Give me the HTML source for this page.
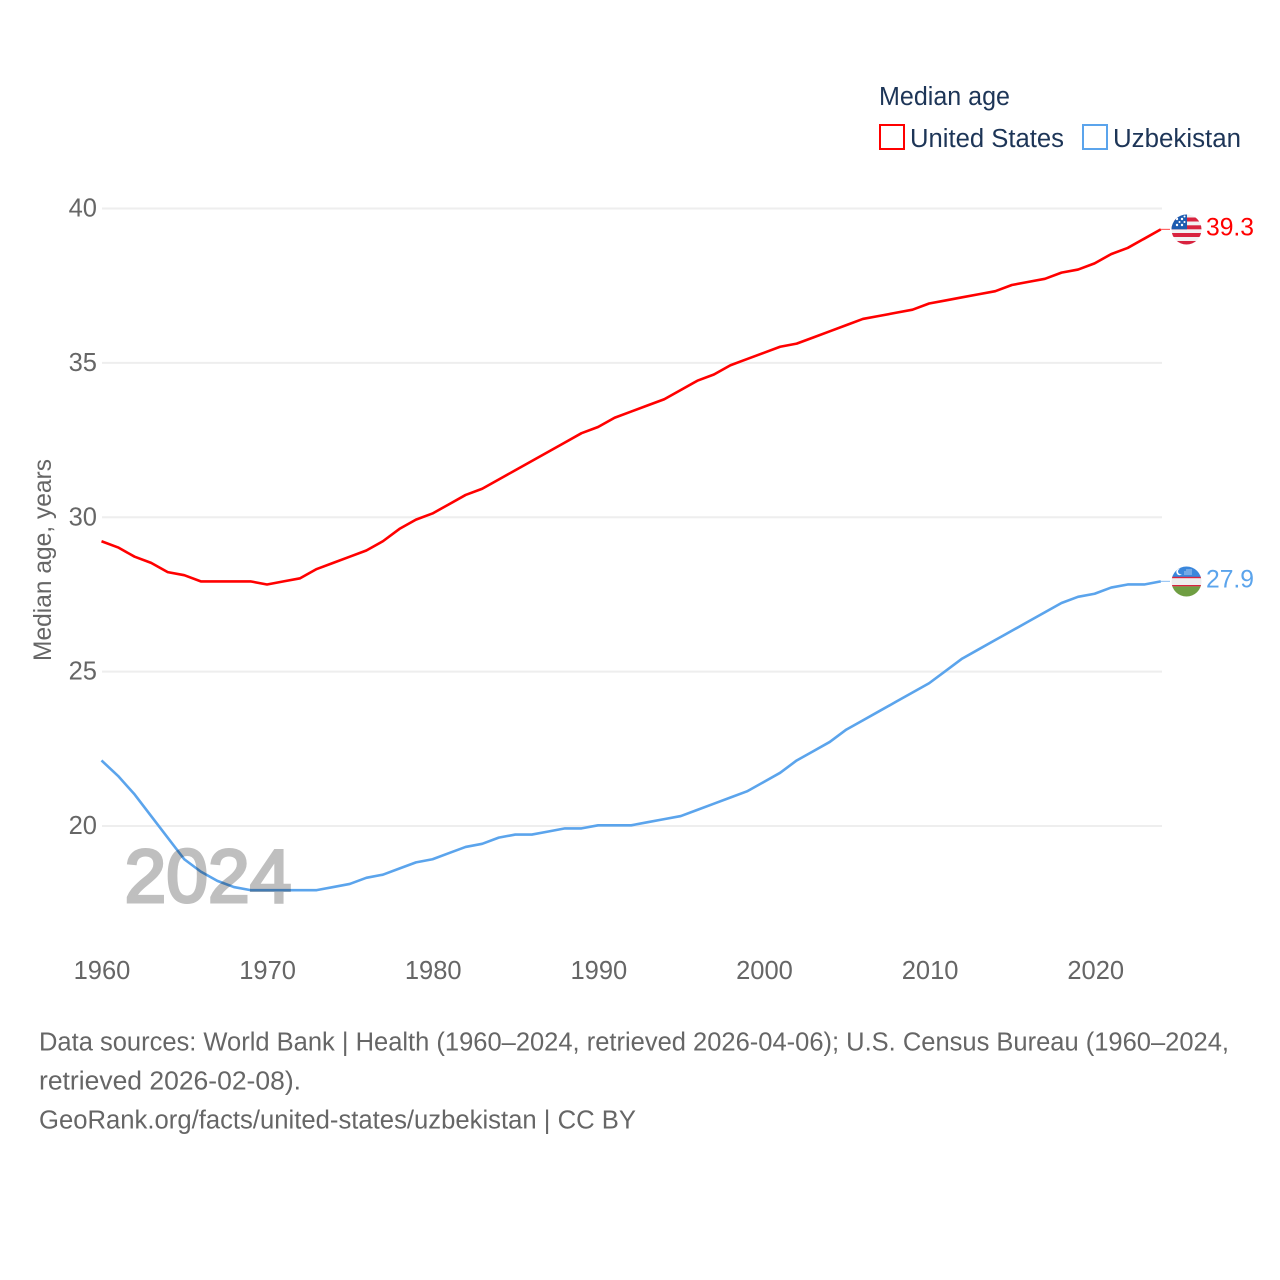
<!DOCTYPE html>
<html lang="en">
<head>
<meta charset="utf-8">
<title>Median age: United States and Uzbekistan</title>
<style>
html,body{margin:0;padding:0;background:#fff;}
svg{display:block;}
text{font-family:"Liberation Sans",sans-serif;}
</style>
</head>
<body>
<svg id="chart" xmlns="http://www.w3.org/2000/svg" width="1280" height="1280" viewBox="0 0 1280 1280">
  <defs>
    <clipPath id="us-clip"><circle cx="1186.5" cy="229.5" r="15"/></clipPath>
    <clipPath id="uz-clip"><circle cx="1186.5" cy="581.5" r="15"/></clipPath>
  </defs>
  <rect width="1280" height="1280" fill="#fff"/>

  <g id="grid"></g>

  <g id="yticks"></g>
  <g id="xticks"></g>

  <text transform="translate(51,661) rotate(-90)" font-size="25" fill="#666" textLength="202" lengthAdjust="spacingAndGlyphs">Median age, years</text>

  <g id="series"></g>

  <text x="124.5" y="902" font-size="75" font-weight="400" fill="#bfbfbf" stroke="#bfbfbf" stroke-width="3" textLength="167" lengthAdjust="spacingAndGlyphs" style="mix-blend-mode:multiply">2024</text>

  <g>
    <text x="879" y="105" font-size="25.5" fill="#1d3557" textLength="131" lengthAdjust="spacingAndGlyphs">Median age</text>
    <g>
      <rect x="880" y="125" width="24" height="24" fill="#fff" stroke="#ff0000" stroke-width="2"/>
      <text x="910" y="147" font-size="25.5" fill="#1d3557" textLength="154" lengthAdjust="spacingAndGlyphs">United States</text>
    </g>
    <g>
      <rect x="1083" y="125" width="24" height="24" fill="#fff" stroke="#5ba4ec" stroke-width="2"/>
      <text x="1113" y="147" font-size="25.5" fill="#1d3557" textLength="128" lengthAdjust="spacingAndGlyphs">Uzbekistan</text>
    </g>
  </g>

  <g clip-path="url(#us-clip)">
    <rect x="1171" y="214" width="31" height="32" fill="#f2f2f2"/>
    <rect x="1171" y="217.5" width="31" height="4" fill="#d8233f"/>
    <rect x="1171" y="225.3" width="31" height="4" fill="#d8233f"/>
    <rect x="1171" y="233" width="31" height="4" fill="#d8233f"/>
    <rect x="1171" y="241" width="31" height="4.5" fill="#d8233f"/>
    <rect x="1171" y="214" width="16" height="15.3" fill="#1e5cb0"/>
    <circle cx="1177" cy="219" r="1.2" fill="#fff"/>
    <circle cx="1182" cy="219" r="1.2" fill="#fff"/>
    <circle cx="1177" cy="225" r="1.2" fill="#fff"/>
    <circle cx="1182" cy="225" r="1.2" fill="#fff"/>
    <circle cx="1179.5" cy="222" r="1" fill="#fff"/>
    <circle cx="1184.5" cy="222" r="1" fill="#fff"/>
    <circle cx="1184.5" cy="216.5" r="1" fill="#fff"/>
  </g>
  <g clip-path="url(#uz-clip)">
    <rect x="1171" y="566" width="31" height="11" fill="#3a87dc"/>
    <rect x="1171" y="577" width="31" height="9" fill="#eeeeee"/>
    <rect x="1171" y="576.8" width="31" height="1.4" fill="#d8233f"/>
    <rect x="1171" y="585" width="31" height="1.4" fill="#d8233f"/>
    <rect x="1171" y="586.4" width="31" height="11" fill="#6f9e42"/>
    <circle cx="1179.5" cy="572" r="3.2" fill="#fff"/>
    <circle cx="1180.9" cy="571.5" r="2.9" fill="#3a87dc"/>
    <circle cx="1185" cy="574" r=".6" fill="#fff"/><circle cx="1187" cy="574" r=".6" fill="#fff"/><circle cx="1189" cy="574" r=".6" fill="#fff"/><circle cx="1191" cy="574" r=".6" fill="#fff"/>
    <circle cx="1185" cy="572" r=".6" fill="#fff"/><circle cx="1187" cy="572" r=".6" fill="#fff"/><circle cx="1189" cy="572" r=".6" fill="#fff"/><circle cx="1191" cy="572" r=".6" fill="#fff"/>
    <circle cx="1187" cy="570" r=".6" fill="#fff"/><circle cx="1189" cy="570" r=".6" fill="#fff"/><circle cx="1191" cy="570" r=".6" fill="#fff"/>
  </g>

  <text x="1206" y="235.5" font-size="25" fill="#ff0000" textLength="48" lengthAdjust="spacingAndGlyphs">39.3</text>
  <text x="1206" y="587.5" font-size="25" fill="#5ba4ec" textLength="48" lengthAdjust="spacingAndGlyphs">27.9</text>

  <g font-size="25.5" fill="#666">
    <text x="39" y="1050.5" textLength="1190" lengthAdjust="spacingAndGlyphs">Data sources: World Bank | Health (1960–2024, retrieved 2026-04-06); U.S. Census Bureau (1960–2024,</text>
    <text x="39" y="1089.5" textLength="262" lengthAdjust="spacingAndGlyphs">retrieved 2026-02-08).</text>
    <text x="39" y="1128.5" textLength="597" lengthAdjust="spacingAndGlyphs">GeoRank.org/facts/united-states/uzbekistan | CC BY</text>
  </g>
</svg>
<script>
var startYear = 1960;
var yTickValues = [20, 25, 30, 35, 40];
var xTickValues = [1960, 1970, 1980, 1990, 2000, 2010, 2020];
var unitedStatesValues = [
  29.2, 29.0, 28.7, 28.5, 28.2, 28.1, 27.9, 27.9, 27.9, 27.9,
  27.8, 27.9, 28.0, 28.3, 28.5, 28.7, 28.9, 29.2, 29.6, 29.9,
  30.1, 30.4, 30.7, 30.9, 31.2, 31.5, 31.8, 32.1, 32.4, 32.7,
  32.9, 33.2, 33.4, 33.6, 33.8, 34.1, 34.4, 34.6, 34.9, 35.1,
  35.3, 35.5, 35.6, 35.8, 36.0, 36.2, 36.4, 36.5, 36.6, 36.7,
  36.9, 37.0, 37.1, 37.2, 37.3, 37.5, 37.6, 37.7, 37.9, 38.0,
  38.2, 38.5, 38.7, 39.0, 39.3
];
var uzbekistanValues = [
  22.1, 21.6, 21.0, 20.3, 19.6, 18.9, 18.5, 18.2, 18.0, 17.9,
  17.9, 17.9, 17.9, 17.9, 18.0, 18.1, 18.3, 18.4, 18.6, 18.8,
  18.9, 19.1, 19.3, 19.4, 19.6, 19.7, 19.7, 19.8, 19.9, 19.9,
  20.0, 20.0, 20.0, 20.1, 20.2, 20.3, 20.5, 20.7, 20.9, 21.1,
  21.4, 21.7, 22.1, 22.4, 22.7, 23.1, 23.4, 23.7, 24.0, 24.3,
  24.6, 25.0, 25.4, 25.7, 26.0, 26.3, 26.6, 26.9, 27.2, 27.4,
  27.5, 27.7, 27.8, 27.8, 27.9
];

var NS = 'http://www.w3.org/2000/svg';
function xScale(year) { return 101.5 + (year - 1960) * (1160.8 - 101.5) / 64; }
function xLabelScale(year) { return 102 + (year - 1960) * (1162 - 102) / 64; }
function yScale(v) { return 826 - (v - 20) * (826 - 208.5) / 20; }
function yLineScale(v) { return yScale(v) - 0.7; }
function make(tag, attrs, parent) {
  var el = document.createElementNS(NS, tag);
  for (var k in attrs) el.setAttribute(k, attrs[k]);
  parent.appendChild(el);
  return el;
}

var grid = document.getElementById('grid');
var yticks = document.getElementById('yticks');
var xticks = document.getElementById('xticks');
var series = document.getElementById('series');

yTickValues.forEach(function (v) {
  var line = make('line', { x1: 102, x2: 1162, y1: yScale(v), y2: yScale(v), stroke: '#eeeeee', 'stroke-width': 2 }, grid);
  
  
  var label = make('text', { x: 97, y: yScale(v) + 8, 'text-anchor': 'end', 'font-size': 25.5, fill: '#666' }, yticks);
  
  
  label.textContent = String(v);
});

xTickValues.forEach(function (y) {
  var label = make('text', { x: xLabelScale(y), y: 979, 'text-anchor': 'middle', 'font-size': 25.5, fill: '#666' }, xticks);
  
  
  label.textContent = String(y);
});

function pathFor(values) {
  return values.map(function (v, i) {
    return (i ? 'L' : 'M') + xScale(startYear + i).toFixed(2) + ' ' + yLineScale(v).toFixed(2);
  }).join(' ');
}
function lastPoint(values) {
  return { x: xScale(startYear + values.length - 1), y: yLineScale(values[values.length - 1]) };
}

var usEnd = lastPoint(unitedStatesValues);
var uzEnd = lastPoint(uzbekistanValues);

var usConnector = make('line', { x1: usEnd.x, y1: usEnd.y, x2: 1170, y2: usEnd.y, stroke: '#ff0000', 'stroke-width': 1.2, 'stroke-opacity': 0.6 }, series);



var uzConnector = make('line', { x1: uzEnd.x, y1: uzEnd.y, x2: 1170, y2: uzEnd.y, stroke: '#5ba4ec', 'stroke-width': 1.2, 'stroke-opacity': 0.6 }, series);



var usLine = make('path', { d: pathFor(unitedStatesValues), fill: 'none', stroke: '#ff0000', 'stroke-width': 2.6, 'stroke-linejoin': 'round' }, series);



var uzLine = make('path', { d: pathFor(uzbekistanValues), fill: 'none', stroke: '#5ba4ec', 'stroke-width': 2.6, 'stroke-linejoin': 'round' }, series);


</script>
</body>
</html>
